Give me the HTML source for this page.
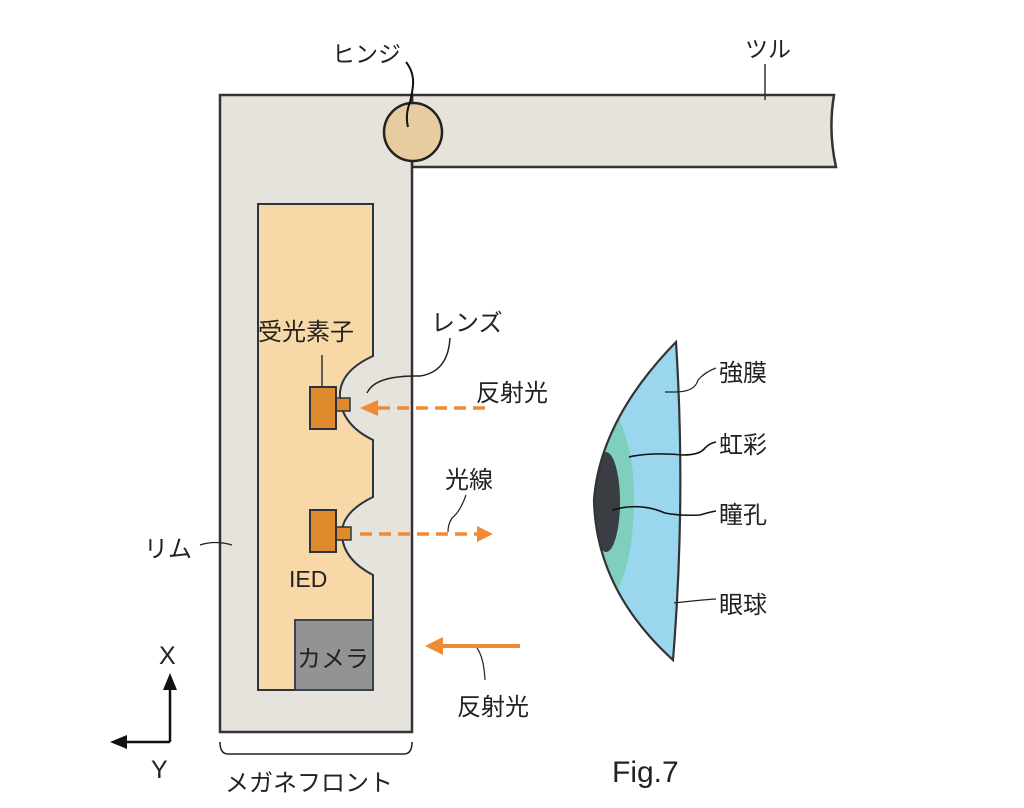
<!DOCTYPE html>
<html><head><meta charset="utf-8"><style>
html,body{margin:0;padding:0;background:#fff;}
svg{display:block;}
text{font-family:"Liberation Sans","Noto Sans CJK JP",sans-serif;fill:#222;}
</style></head><body>
<svg width="1024" height="808" viewBox="0 0 1024 808" xmlns="http://www.w3.org/2000/svg">
<!-- temple -->
<path d="M412,95 L834,95 Q828,131 836,167 L412,167 Z" fill="#e6e2dc" stroke="#333" stroke-width="2.5"/>
<!-- frame -->
<rect x="220" y="95" width="192" height="637" fill="#e6e2dc" stroke="#333" stroke-width="2.5"/>
<rect x="222" y="97" width="188" height="68" fill="#e6e2dc"/>
<!-- inner panel -->
<path d="M258,204 L373,204 L373,356 Q338,372 340,398 Q342,425 373,440 L373,497 Q340,513 342,536 Q344,560 373,575 L373,690 L258,690 Z" fill="#f8d8a6" stroke="#2b3440" stroke-width="2"/>
<!-- camera -->
<rect x="295" y="620" width="78" height="70" fill="#939393" stroke="#3a4350" stroke-width="2"/>
<text x="297" y="667" font-size="24">カメラ</text>
<!-- hinge -->
<circle cx="413" cy="132" r="29" fill="#e6cc9e" stroke="#222" stroke-width="2.5"/>
<path d="M406,62 Q414,72 413,85 Q412,95 410,102 Q405,115 408,127" fill="none" stroke="#111" stroke-width="2"/>
<text x="332" y="62" font-size="23">ヒンジ</text>
<line x1="765" y1="64" x2="765" y2="100" stroke="#333" stroke-width="1.5"/>
<text x="745" y="57" font-size="23">ツル</text>
<!-- receiver -->
<line x1="322" y1="355" x2="322" y2="388" stroke="#2b3440" stroke-width="1.5"/>
<rect x="336" y="398" width="14" height="13" fill="#e08a2e" stroke="#2b3440" stroke-width="1.5"/>
<rect x="310" y="387" width="26" height="42" fill="#e08a2e" stroke="#2b3440" stroke-width="2"/>
<rect x="336" y="527" width="15" height="13" fill="#e08a2e" stroke="#2b3440" stroke-width="1.5"/>
<rect x="310" y="510" width="26" height="42" fill="#e08a2e" stroke="#2b3440" stroke-width="2"/>
<text x="258" y="340" font-size="24">受光素子</text>
<text x="289" y="587" font-size="23">IED</text>
<!-- lens label -->
<path d="M450,338 Q448,372 420,376 Q375,375 367,393" fill="none" stroke="#222" stroke-width="1.5"/>
<text x="431" y="331" font-size="24">レンズ</text>
<!-- arrows -->
<line x1="485" y1="408" x2="378" y2="408" stroke="#f08a35" stroke-width="3.5" stroke-dasharray="12,7"/>
<polygon points="360,408 378,400 378,416" fill="#f08a35"/>
<text x="476" y="401" font-size="24">反射光</text>
<line x1="360" y1="534" x2="478" y2="534" stroke="#f08a35" stroke-width="3.5" stroke-dasharray="12,7"/>
<polygon points="493,534 477,526 477,542" fill="#f08a35"/>
<path d="M466,495 Q460,512 452,518 Q448,524 448,532" fill="none" stroke="#222" stroke-width="1.2"/>
<text x="445" y="488" font-size="24">光線</text>
<line x1="520" y1="646" x2="442" y2="646" stroke="#f08a35" stroke-width="4"/>
<polygon points="425,646 443,637 443,655" fill="#f08a35"/>
<path d="M477,648 Q484,658 485,680" fill="none" stroke="#222" stroke-width="1.2"/>
<text x="457" y="715" font-size="24">反射光</text>
<!-- rim label -->
<path d="M200,545 Q215,540 232,545" fill="none" stroke="#222" stroke-width="1.2"/>
<text x="144" y="557" font-size="24">リム</text>
<!-- eye -->
<defs><clipPath id="eye"><path d="M676,342 Q600,420 594,500 Q596,590 673,660 Q686,500 676,342 Z"/></clipPath></defs>
<path d="M676,342 Q600,420 594,500 Q596,590 673,660 Q686,500 676,342 Z" fill="#9ad7ef"/>
<g clip-path="url(#eye)">
<path d="M560,370 L615,410 Q635,450 634,500 Q634,555 618,590 L560,630 Z" fill="#7fcfbf"/>
<ellipse cx="606" cy="502" rx="14" ry="50" fill="#3a3d42"/>
</g>
<path d="M676,342 Q600,420 594,500 Q596,590 673,660 Q686,500 676,342 Z" fill="none" stroke="#333" stroke-width="2.2"/>
<path d="M665,392 L675,392 Q695,392 698,380 Q705,372 716,368" fill="none" stroke="#222" stroke-width="1.2"/>
<path d="M629,457 Q650,452 683,455 Q700,455 705,448 Q710,443 716,442" fill="none" stroke="#111" stroke-width="1.6"/>
<path d="M612,510 Q640,502 665,513 Q680,516 700,515 Q710,512 716,511" fill="none" stroke="#111" stroke-width="1.6"/>
<path d="M674,603 Q700,600 716,599" fill="none" stroke="#222" stroke-width="1.2"/>
<text x="719" y="381" font-size="24">強膜</text>
<text x="719" y="453" font-size="24">虹彩</text>
<text x="719" y="523" font-size="24">瞳孔</text>
<text x="719" y="613" font-size="24">眼球</text>
<!-- axes -->
<line x1="170" y1="742" x2="170" y2="688" stroke="#111" stroke-width="2.5"/>
<polygon points="170,673 163,690 177,690" fill="#111"/>
<line x1="170" y1="742" x2="125" y2="742" stroke="#111" stroke-width="2.5"/>
<polygon points="110,742 127,735 127,749" fill="#111"/>
<text x="159" y="664" font-size="25">X</text>
<text x="151" y="778" font-size="25">Y</text>
<!-- brace -->
<path d="M220,742 Q220,754 228,754 L404,754 Q412,754 412,742" fill="none" stroke="#222" stroke-width="1.5"/>
<text x="225" y="791" font-size="24">メガネフロント</text>
<text x="612" y="782" font-size="30">Fig.7</text>
</svg>
</body></html>
